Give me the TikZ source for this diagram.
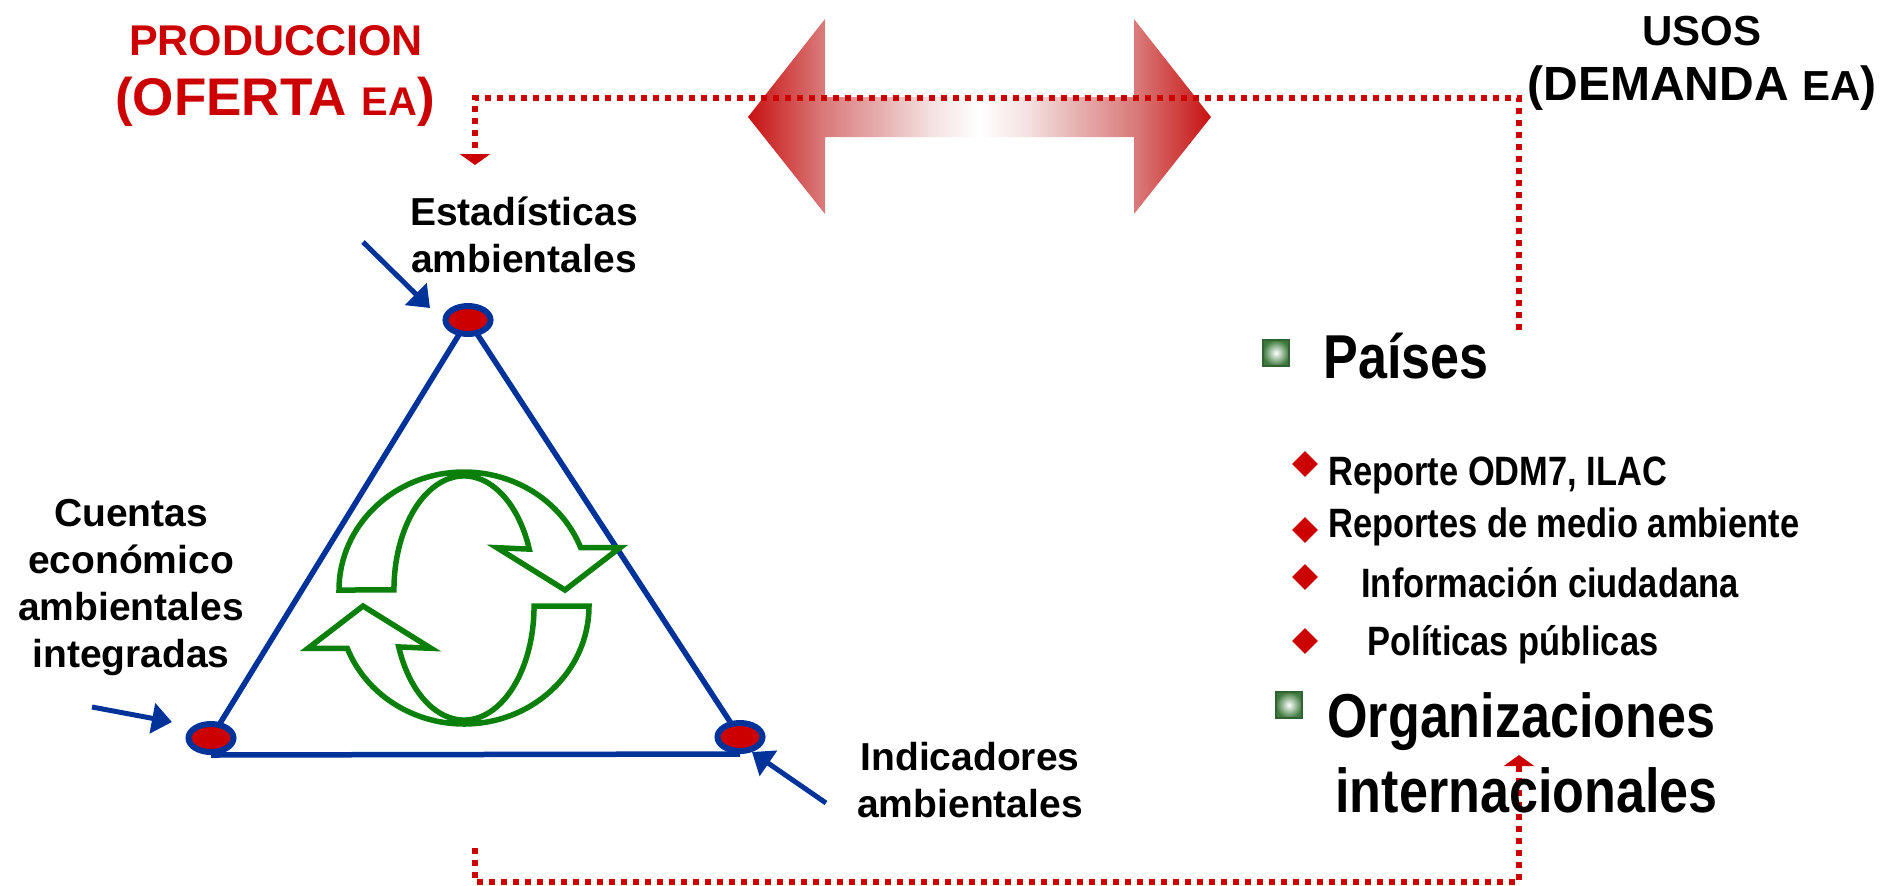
\documentclass[tikz,border=0pt]{standalone}
\usepackage{fontspec}
\setmainfont{Liberation Sans}
\newfontfamily\narrowfont[FakeStretch=0.84]{Liberation Sans}
\usetikzlibrary{arrows.meta,shapes.geometric,backgrounds}
\definecolor{tri}{HTML}{003399}
\definecolor{dred}{HTML}{CC0000}
\definecolor{tipred}{HTML}{C81212}
\definecolor{arwa}{HTML}{D97878}
\definecolor{arwb}{HTML}{E8B5B5}
\definecolor{arwc}{HTML}{F5E2E2}
\definecolor{cgreen}{HTML}{0A800A}
\definecolor{bgreen}{HTML}{3E7A3E}
\pgfdeclarehorizontalshading{dblarrow}{100bp}{color(0bp)=(tipred); color(25bp)=(tipred); color(33bp)=(arwa); color(40bp)=(arwb); color(45bp)=(arwc); color(50bp)=(white); color(55bp)=(arwc); color(60bp)=(arwb); color(67bp)=(arwa); color(75bp)=(tipred); color(100bp)=(tipred)}
\begin{document}
\begin{tikzpicture}[x=0.5pt,y=-0.5pt,
  lbl/.style={inner sep=0pt, font=\bfseries\fontsize{19.5}{23.5}\selectfont, align=center, anchor=base},
  bigitem/.style={inner sep=0pt, anchor=base west, align=left, font=\narrowfont\bfseries\fontsize{31}{37.5}\selectfont},
  subitem/.style={inner sep=0pt, anchor=base west, font=\narrowfont\bfseries\fontsize{20.5}{24}\selectfont},
  dotnode/.style={ellipse, draw=tri, fill=dred, line width=3pt, minimum width=22.5pt, minimum height=14pt, inner sep=0pt},
  triline/.style={draw=tri, line width=2.75pt},
  bluearrow/.style={draw=tri, line width=2.5pt, -{Triangle[length=10pt,width=15pt]}},
  reddot/.style={draw=dred, line width=3pt, dash pattern=on 3pt off 3pt, -{Triangle[length=5.5pt,width=15pt]}},
  rdiam/.style={diamond, fill=dred, minimum size=13pt, inner sep=0pt},
  gbox/.style={rectangle, minimum size=13pt, inner sep=0pt, inner color=white, outer color=bgreen, draw=bgreen!80!black, line width=0.8pt},
  grn/.style={draw=cgreen, line width=2.75pt, line join=miter},
  cyclearrow/.pic={\draw[grn] (-125,8) arc[start angle=180,end angle=21,x radius=125,y radius=118] -- (156,50.3) -- (101,8) -- (33,50.3) -- (65.3,48.9) arc[start angle=21,end angle=180,x radius=70,y radius=114] -- cycle;}
]
\useasboundingbox (0,0) rectangle (1895,885);

% titles
\node[anchor=base, inner sep=0pt, text=dred, font=\bfseries\fontsize{21.5}{26}\selectfont] (prod) at (276,55) {PRODUCCION};
\node[anchor=base, inner sep=0pt, text=dred, font=\bfseries\fontsize{26.5}{30}\selectfont] (oferta) at (275,115) {(OFERTA {\fontsize{20}{22}\selectfont EA})};
\node[anchor=base, inner sep=0pt, font=\bfseries\fontsize{21}{25}\selectfont] (usos) at (1702,45) {USOS};
\node[anchor=base, inner sep=0pt, font=\bfseries\fontsize{24}{28}\selectfont] (demanda) at (1702,100) {(DEMANDA {\fontsize{21}{23}\selectfont EA})};

% big double arrow
\shade[shading=dblarrow] (748,117) -- (825,19) -- (825,97) -- (1134,97) -- (1134,19) -- (1211,117) -- (1134,214) -- (1134,137) -- (825,137) -- (825,214) -- cycle;

% red dotted connectors
\coordinate (u1) at (1519,330);
\coordinate (u2) at (475,98);
\coordinate (u3) at (475,165);
\draw[reddot] (u1) |- (u2) -- (u3);
\coordinate (b1) at (475,848);
\coordinate (b3) at (1519,882);
\coordinate (b2) at (1519,755);
\draw[reddot] (b1) |- (b3) -- (b2);

% triangle nodes
\node[dotnode] (top) at (468,320) {};
\node[dotnode] (lft) at (211,738) {};
\node[dotnode] (rgt) at (740,737) {};
\begin{scope}[on background layer]
\draw[triline] (lft.center) -- (top.center) -- (rgt.center);
\draw[triline] (lft.south) -- (rgt.south);
\end{scope}

% green cycle arrows
\pic[yscale=-1] at (464,598) {cyclearrow};
\pic[xscale=-1] at (464,598) {cyclearrow};

% labels (anchor base = baseline of last line)
\node[lbl] (estad) at (524,272) {Estadísticas\\ambientales};
\node[lbl] (cuentas) at (131,667) {Cuentas\\económico\\ambientales\\integradas};
\node[lbl] (indic) at (970,817) {Indicadores\\ambientales};

% pointer arrows
\coordinate (p1) at (363,242); \coordinate (p1e) at (430,308);
\coordinate (p2) at (92,707); \coordinate (p2e) at (172,722);
\coordinate (p3) at (826,803); \coordinate (p3e) at (752,752);
\draw[bluearrow] (p1) -- (p1e);
\draw[bluearrow] (p2) -- (p2e);
\draw[bluearrow] (p3) -- (p3e);

% right column
\node[gbox] (sq1) at (1276,353) {};
\node[bigitem] (paises) at (1323,378) {Países};
\node[rdiam] (d1) at (1305,464) {};
\node[rdiam] (d2) at (1305,530) {};
\node[rdiam] (d3) at (1305,577) {};
\node[rdiam] (d4) at (1305,641) {};
\node[subitem] (s1) at (1328,485) {Reporte ODM7, ILAC};
\node[subitem] (s2) at (1328,537) {Reportes de medio ambiente};
\node[subitem] (s3) at (1361,597) {Información ciudadana};
\node[subitem] (s4) at (1367,655) {Políticas públicas};
\node[gbox] (sq2) at (1289,705) {};
\node[bigitem] (orgs) at (1327,812) {Organizaciones\\\hspace{4pt}internacionales};
\end{tikzpicture}
\end{document}
